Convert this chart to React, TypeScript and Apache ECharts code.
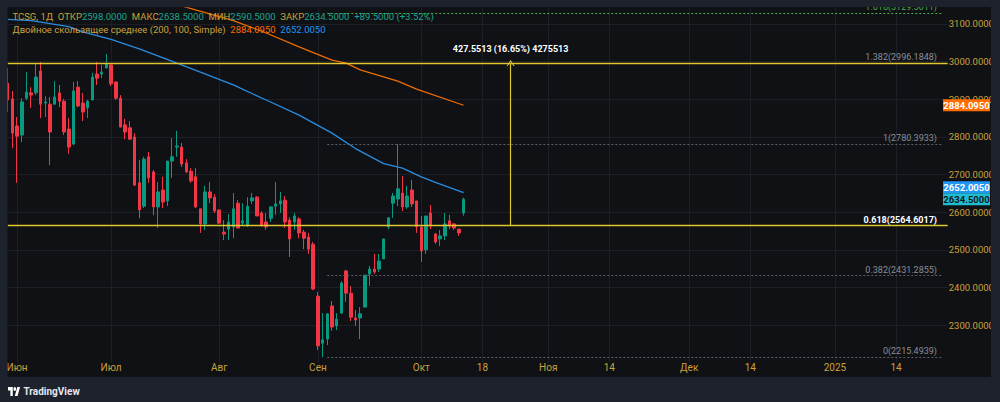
import React, { useEffect, useRef } from "react";
import * as echarts from "echarts";

const FONT = "Roboto, 'Noto Sans', 'DejaVu Sans', sans-serif";
const GOLD = "#c9a23a";
const UP = "#089981";
const DOWN = "#f23645";
const GRIDC = "#1c1f27";
const PANEL = "#0f1115";
const FRAME = "#1e222d";
const YELLOW = "#e0c72e";
const FIBLINE = "#5d606b";
const FIBTEXT = "#8b8e98";

// ---- data ----
const slotCount = 201;
const categories = Array.from({ length: slotCount }, (_, i) => String(i));

const opens = [
  2943, 2901, 2829, 2805, 2903, 2917, 2917, 2975, 2890, 2887,
  2887, 2917, 2895, 2821, 2781, 2932, 2890, 2877, 2898, 2967,
  2967, 2983, 2991, 2946, 2903, 2832, 2824, 2800, 2678, 2616,
  2747, 2707, 2614, 2659, 2630, 2736, 2773, 2773, 2731, 2709,
  2694, 2609, 2569, 2654, 2640, 2606, 2547, 2555, 2561, 2624,
  2571, 2566, 2630, 2640, 2598, 2574, 2584, 2616, 2622, 2632,
  2579, 2574, 2582, 2547, 2534, 2515, 2377, 2252, 2263, 2351,
  2298, 2332, 2444, 2385, 2319, 2319, 2348, 2436, 2449, 2449,
  2476, 2561, 2624, 2635, 2651, 2614, 2659, 2630, 2561, 2500,
  2598, 2542, 2529, 2537, 2577, 2569, 2555, 2598,
];
const highs = [
  2983, 2922, 2853, 2903, 2972, 2932, 2996, 2999, 2908, 2906,
  2948, 2938, 2901, 2850, 2946, 2948, 2917, 2898, 2970, 2999,
  2991, 3020, 2996, 2946, 2911, 2848, 2842, 2810, 2739, 2747,
  2760, 2712, 2680, 2694, 2736, 2797, 2816, 2784, 2741, 2717,
  2717, 2609, 2670, 2680, 2648, 2606, 2579, 2595, 2651, 2632,
  2624, 2640, 2651, 2643, 2603, 2598, 2616, 2680, 2654, 2643,
  2587, 2598, 2587, 2553, 2545, 2521, 2388, 2332, 2332, 2364,
  2332, 2417, 2447, 2404, 2340, 2348, 2433, 2457, 2489, 2489,
  2529, 2587, 2651, 2781, 2696, 2670, 2686, 2630, 2590, 2590,
  2619, 2545, 2553, 2598, 2593, 2571, 2555, 2638.5,
];
const lows = [
  2866, 2770, 2678, 2786, 2898, 2877, 2911, 2850, 2853, 2725,
  2885, 2879, 2805, 2755, 2778, 2879, 2842, 2850, 2898, 2938,
  2956, 2983, 2935, 2898, 2826, 2794, 2792, 2670, 2584, 2611,
  2678, 2592, 2558, 2611, 2616, 2691, 2747, 2720, 2704, 2678,
  2611, 2545, 2553, 2624, 2598, 2569, 2526, 2526, 2531, 2558,
  2566, 2561, 2622, 2590, 2561, 2553, 2574, 2593, 2598, 2558,
  2481, 2553, 2531, 2502, 2489, 2393, 2234, 2215, 2247, 2285,
  2287, 2330, 2362, 2311, 2298, 2263, 2348, 2404, 2436, 2441,
  2476, 2555, 2585, 2616, 2603, 2609, 2614, 2545, 2468, 2489,
  2555, 2516, 2510, 2526, 2555, 2553, 2537, 2590.5,
];
const closes = [
  2898, 2810, 2802, 2893, 2919, 2911, 2959, 2887, 2893, 2813,
  2906, 2895, 2813, 2773, 2922, 2882, 2866, 2895, 2959, 2956,
  2972, 2994, 2941, 2903, 2826, 2813, 2794, 2672, 2606, 2741,
  2691, 2614, 2654, 2627, 2736, 2747, 2776, 2728, 2707, 2683,
  2614, 2569, 2654, 2638, 2603, 2571, 2542, 2574, 2609, 2558,
  2577, 2616, 2638, 2590, 2566, 2561, 2614, 2622, 2630, 2574,
  2529, 2590, 2545, 2531, 2502, 2396, 2245, 2261, 2330, 2295,
  2316, 2412, 2385, 2321, 2314, 2330, 2433, 2449, 2441, 2470,
  2529, 2585, 2643, 2662, 2614, 2643, 2622, 2561, 2497, 2590,
  2563, 2521, 2537, 2569, 2563, 2558, 2545, 2634.5,
];

const ma100Idx = [0, 5, 13, 16, 22, 28, 36, 41, 48, 55, 62, 69, 74, 80, 84, 88, 91, 97];
const ma100Val = [3112, 3109, 3093, 3079, 3059, 3034, 2996, 2972, 2938, 2898, 2858, 2810, 2769, 2729, 2717, 2694, 2679, 2652.005];
const ma200Idx = [37, 48, 55, 62, 69, 72, 75, 83, 87, 97];
const ma200Val = [3148, 3109, 3076, 3039, 3004, 2996, 2978, 2948, 2927, 2884.095];

const timeLabelIdx = [2, 22, 45, 66, 88, 101, 115, 128, 145, 158, 176, 189];
const timeLabelText = ["Июн", "Июл", "Авг", "Сен", "Окт", "18", "Ноя", "14", "Дек", "14", "2025", "14"];

const fibRatios = [1.618, 1.382, 1, 0.618, 0.382, 0];
const fibPrices = [3129.5011, 2996.1848, 2780.3933, 2564.6017, 2431.2855, 2215.4939];
const fibStartIdx = 68;
const fibEndIdx = 199;
const hLinePrices = [2996.1848, 2564.6017];
const measureIdx = 107;
const measureFrom = 2564.6017;
const measureTo = 2996.1848;
const measureText = "427.5513 (16.65%) 4275513";

const tagValues = [2884.095, 2652.005, 2634.5];
const tagFills = ["#ff6d00", "#2196f3", "#1fbcd2"];
const tagTextColors = ["#ffffff", "#ffffff", "#131722"];

const headerLine1 = [
  ["g", "TCSG, 1Д  ОТКР"], ["v", "2598.0000"], ["g", "  МАКС"], ["v", "2638.5000"],
  ["g", "  МИН"], ["v", "2590.5000"], ["g", "  ЗАКР"], ["v", "2634.5000"], ["v", "  +89.5000 (+3.52%)"],
];
const headerLine2 = [
  ["g", "Двойное скользящее среднее (200, 100, Simple)  "], ["o", "2884.0950"], ["b", "  2652.0050"],
];

const TV_PATH = "M14 22H7V11H0V4h14v18zM28 22h-8l7.5-18h8L28 22zM24 8a4 4 0 1 1-8 0a4 4 0 1 1 8 0z";
echarts.graphic.registerShape("tvlogo", echarts.graphic.extendPath(TV_PATH, {}));

const timeLabelMap: Record<number, string> = {};
timeLabelIdx.forEach((k, j) => { timeLabelMap[k] = timeLabelText[j]; });

const candleData = opens.map((o, i) => [o, closes[i], lows[i], highs[i]]);

function buildOption(): any {
  const fibLines = fibRatios.map((r, j) => {
    const isMain = r === 0.618;
    const isTop = r === 1.618;
    return [
      {
        coord: [fibStartIdx, fibPrices[j]],
        lineStyle: { color: isTop ? "#4caf50" : FIBLINE, type: [2, 2], width: 1 },
        label: {
          show: true,
          position: "insideEndTop",
          formatter: `${r}(${fibPrices[j].toFixed(4)})`,
          color: isTop ? "#4caf50" : isMain ? "#ffffff" : FIBTEXT,
          fontWeight: isMain ? "bold" : "normal",
          fontSize: 9,
          fontFamily: FONT,
          distance: [6, 1.5],
        },
      },
      { coord: [fibEndIdx, fibPrices[j]] },
    ];
  });
  const hLines = hLinePrices.map((p) => ({
    yAxis: p,
    lineStyle: { color: YELLOW, type: "solid", width: 1.4 },
    label: { show: false },
  }));
  const measure = [
    {
      coord: [measureIdx, measureFrom],
      lineStyle: { color: YELLOW, type: "solid", width: 1.2 },
      label: {
        show: true,
        position: "end",
        formatter: measureText,
        color: "#ffffff",
        fontWeight: "bold",
        fontSize: 9,
        fontFamily: FONT,
        distance: 10,
      },
    },
    {
      coord: [measureIdx, measureTo],
      symbol: "path://M0,10L5,0L10,10L8.6,10L5,2.8L1.4,10Z",
      symbolSize: [8, 6],
    },
  ];

  return {
    animation: false,
    backgroundColor: PANEL,
    textStyle: { fontFamily: FONT },
    grid: { left: 7.7, right: 52.3, top: 8, bottom: 39.2, containLabel: false },
    xAxis: {
      type: "category",
      data: categories,
      boundaryGap: false,
      axisLine: { show: false },
      axisTick: { show: false },
      axisLabel: {
        interval: (index: number) => timeLabelMap[index] !== undefined,
        formatter: (_v: string, index: number) => timeLabelMap[index] ?? "",
        color: GOLD,
        fontSize: 10,
        fontFamily: FONT,
        margin: 0,
      },
      splitLine: {
        show: true,
        interval: (index: number) => timeLabelMap[index] !== undefined,
        lineStyle: { color: GRIDC, width: 1 },
      },
    },
    yAxis: {
      type: "value",
      position: "right",
      min: 2200,
      max: 3142.4,
      interval: 100,
      scale: true,
      axisLine: { show: false },
      axisTick: { show: false },
      axisLabel: {
        color: GOLD,
        fontSize: 9.5,
        fontFamily: FONT,
        margin: 1,
        showMinLabel: false,
        showMaxLabel: false,
        formatter: (v: number) => v.toFixed(4),
      },
      splitLine: { show: true, showMinLine: false, showMaxLine: false, lineStyle: { color: GRIDC, width: 1 } },
    },
    series: [
      {
        type: "line",
        data: ma200Idx.map((k, j) => [k, ma200Val[j]]),
        showSymbol: false,
        symbol: "none",
        lineStyle: { color: "#ef6c00", width: 1.3 },
        clip: true,
        silent: true,
        z: 3,
      },
      {
        type: "line",
        data: ma100Idx.map((k, j) => [k, ma100Val[j]]),
        showSymbol: false,
        symbol: "none",
        lineStyle: { color: "#2a8de0", width: 1.3 },
        clip: true,
        silent: true,
        z: 3,
      },
      {
        type: "candlestick",
        data: candleData,
        barWidth: 3,
        clip: true,
        itemStyle: {
          color: UP,
          color0: DOWN,
          borderColor: UP,
          borderColor0: DOWN,
          borderWidth: 1,
        },
        z: 4,
        markLine: {
          silent: true,
          animation: false,
          symbol: ["none", "none"],
          data: [...fibLines, ...hLines, measure],
        },
      },
    ],
  };
}

export default function App() {
  const ref = useRef<HTMLDivElement>(null);
  useEffect(() => {
    document.body.style.margin = "0";
    document.body.style.background = FRAME;
    const el = ref.current!;
    const chart = echarts.init(el, null, { renderer: "svg" });
    chart.setOption(buildOption());

    const yPx = (v: number) => chart.convertToPixel({ yAxisIndex: 0 }, v) as number;
    const tagH = 12;
    const tagYs = tagValues.map((v) => yPx(v));
    // resolve overlap like the reference (blue label pushed above cyan)
    if (tagYs[1] > tagYs[2] - tagH) tagYs[1] = tagYs[2] - tagH;

    const rich = {
      g: { fill: GOLD, fontSize: 9.5, fontFamily: FONT },
      v: { fill: "#1fa58f", fontSize: 9.5, fontFamily: FONT },
      o: { fill: "#ff6d00", fontSize: 9.5, fontFamily: FONT },
      b: { fill: "#2196f3", fontSize: 9.5, fontFamily: FONT },
    };
    const toRich = (parts: string[][]) => parts.map(([k, t]) => `{${k}|${t}}`).join("");

    const elements: any[] = [];
    tagValues.forEach((v, j) => {
      elements.push({
        type: "rect",
        z: 50,
        shape: { x: 943, y: tagYs[j] - tagH / 2, width: 47, height: tagH },
        style: { fill: tagFills[j] },
      });
      elements.push({
        type: "text",
        z: 51,
        x: 966.5,
        y: tagYs[j],
        style: {
          text: v.toFixed(4),
          fill: tagTextColors[j],
          font: `bold 9.5px ${FONT}`,
          align: "center",
          verticalAlign: "middle",
        },
      });
    });
    elements.push(
      { type: "text", z: 40, x: 12.5, y: 16.7, style: { text: toRich(headerLine1), rich, verticalAlign: "middle", font: `9.5px ${FONT}` } },
      { type: "text", z: 40, x: 12.5, y: 29.3, style: { text: toRich(headerLine2), rich, verticalAlign: "middle", font: `9.5px ${FONT}` } },
      { type: "rect", z: 100, shape: { x: 0, y: 0, width: 1000, height: 7 }, style: { fill: FRAME } },
      { type: "rect", z: 100, shape: { x: 0, y: 0, width: 7.5, height: 402 }, style: { fill: FRAME } },
      { type: "rect", z: 100, shape: { x: 991, y: 0, width: 9, height: 402 }, style: { fill: FRAME } },
      { type: "rect", z: 100, shape: { x: 0, y: 377, width: 1000, height: 25 }, style: { fill: FRAME } },
      { type: "tvlogo", z: 101, x: 8, y: 385, scaleX: 0.34, scaleY: 0.5, style: { fill: "#ffffff" } },
      { type: "text", z: 101, x: 23.5, y: 391.5, style: { text: "TradingView", fill: "#e6e8ee", font: `bold 10px ${FONT}`, verticalAlign: "middle" } }
    );
    chart.setOption({ graphic: { elements } });

    return () => chart.dispose();
  }, []);
  return <div ref={ref} style={{ width: 1000, height: 402 }} />;
}
